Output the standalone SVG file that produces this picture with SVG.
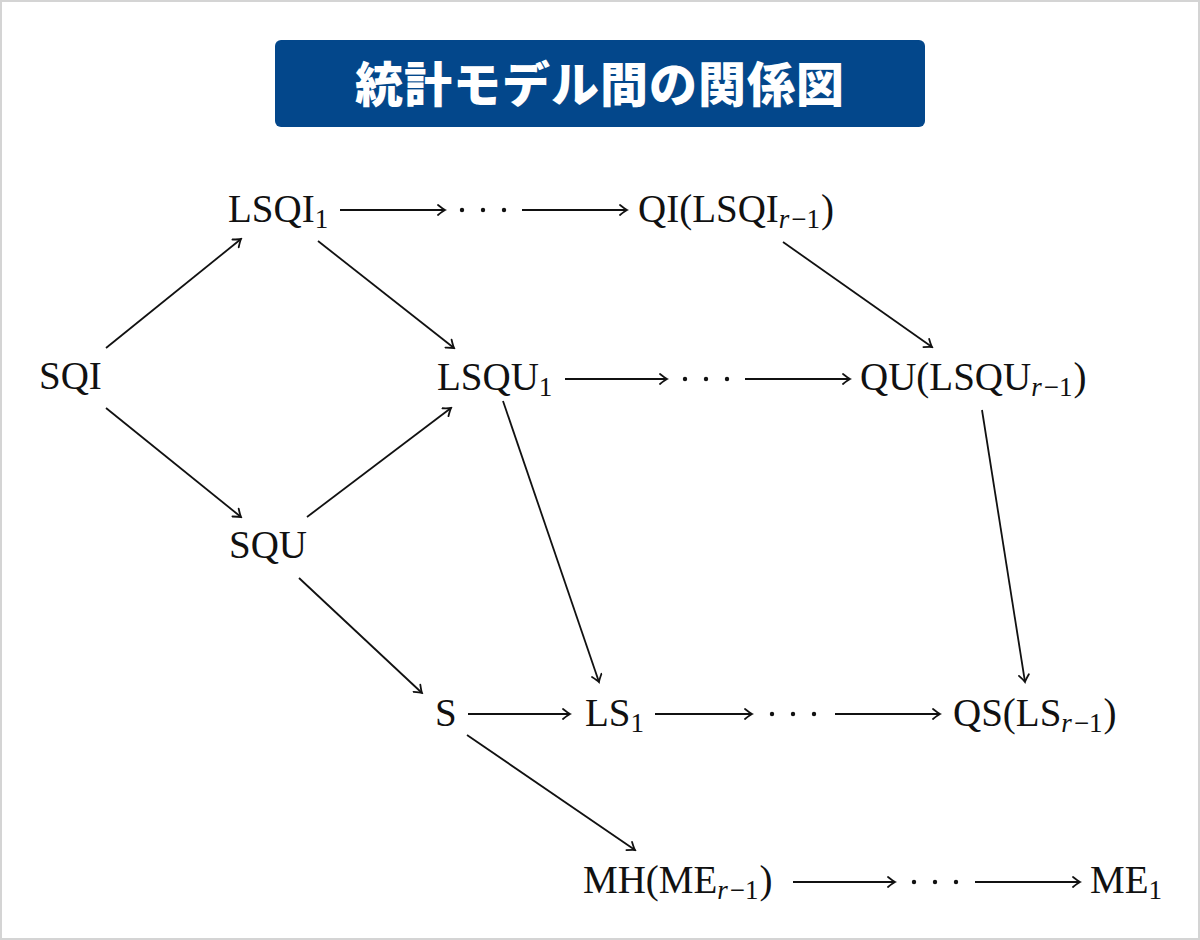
<svg xmlns="http://www.w3.org/2000/svg" width="1200" height="940" viewBox="0 0 1200 940">
<style>
.t{font-family:"Liberation Serif","DejaVu Serif",serif;font-size:39px;fill:#111}
.s{font-size:27px}
.i{font-style:italic}
.c line{stroke:#111;stroke-width:1.8;fill:none;marker-end:url(#ah)}
.title{font-family:"Noto Sans CJK JP","Noto Sans CJK SC",sans-serif;font-weight:900;font-size:48px;fill:#fff;letter-spacing:1px}
</style>
<defs>
<marker id="ah" viewBox="-10 -6 12 12" markerWidth="12" markerHeight="12" refX="0" refY="0" orient="auto" markerUnits="userSpaceOnUse">
<path d="M-7,-5 Q-2,-1 0,0 Q-2,1 -7,5" fill="none" stroke="#111" stroke-width="1.8" stroke-linecap="round"/>
</marker>
</defs>
<rect x="1" y="1" width="1198" height="938" fill="#fff" stroke="#d4d4d4" stroke-width="2"/>
<g id="title">
<rect x="275" y="40" width="650" height="87" rx="6" fill="#03478b"/>
<text class="title" x="600" y="102" text-anchor="middle">統計モデル間の関係図</text>
</g>
<g class="c" id="connectors">
<line x1="106" y1="348" x2="241" y2="239"/>
<line x1="106" y1="408" x2="241" y2="517"/>
<line x1="318" y1="241" x2="454" y2="348"/>
<line x1="307" y1="517" x2="451" y2="408"/>
<line x1="299" y1="578" x2="422" y2="693"/>
<line x1="503" y1="401" x2="599" y2="682"/>
<line x1="783" y1="242" x2="932" y2="347"/>
<line x1="982" y1="410" x2="1025" y2="682"/>
<line x1="467" y1="735" x2="635" y2="850"/>
<line x1="340" y1="210" x2="445" y2="210"/>
<line x1="522" y1="210" x2="627" y2="210"/>
<line x1="565" y1="379" x2="667" y2="379"/>
<line x1="745" y1="379" x2="850" y2="379"/>
<line x1="468" y1="714" x2="570" y2="714"/>
<line x1="655" y1="714" x2="752" y2="714"/>
<line x1="835" y1="714" x2="940" y2="714"/>
<line x1="793" y1="882" x2="895" y2="882"/>
<line x1="975" y1="882" x2="1080" y2="882"/>
<g id="dots" fill="#111">
<circle cx="462" cy="210" r="2.2"/><circle cx="483" cy="210" r="2.2"/><circle cx="504" cy="210" r="2.2"/>
<circle cx="685" cy="379" r="2.2"/><circle cx="706" cy="379" r="2.2"/><circle cx="727" cy="379" r="2.2"/>
<circle cx="772" cy="714" r="2.2"/><circle cx="793" cy="714" r="2.2"/><circle cx="814" cy="714" r="2.2"/>
<circle cx="914" cy="882" r="2.2"/><circle cx="935" cy="882" r="2.2"/><circle cx="956" cy="882" r="2.2"/>
</g>
</g>
<g id="SQI"><text class="t" x="39" y="389">SQI</text></g>
<g id="LSQI1"><text class="t" x="228" y="222">LSQI<tspan class="s" dy="6">1</tspan></text></g>
<g id="QI"><text class="t" x="638" y="222">QI(LSQI<tspan class="s i" dy="6">r</tspan><tspan class="s" dx="2">−1</tspan><tspan dy="-6" dx="1">)</tspan></text></g>
<g id="LSQU1"><text class="t" x="437" y="390">LSQU<tspan class="s" dy="6">1</tspan></text></g>
<g id="QU"><text class="t" x="860" y="390">QU(LSQU<tspan class="s i" dy="6">r</tspan><tspan class="s" dx="2">−1</tspan><tspan dy="-6" dx="1">)</tspan></text></g>
<g id="SQU"><text class="t" x="229" y="558">SQU</text></g>
<g id="S"><text class="t" x="435" y="726">S</text></g>
<g id="LS1"><text class="t" x="585" y="726">LS<tspan class="s" dy="6">1</tspan></text></g>
<g id="QS"><text class="t" x="953" y="726">QS(LS<tspan class="s i" dy="6">r</tspan><tspan class="s" dx="2">−1</tspan><tspan dy="-6" dx="1">)</tspan></text></g>
<g id="MH"><text class="t" x="583" y="893">MH(ME<tspan class="s i" dy="6">r</tspan><tspan class="s" dx="2">−1</tspan><tspan dy="-6" dx="1">)</tspan></text></g>
<g id="ME1"><text class="t" x="1090" y="893">ME<tspan class="s" dy="6">1</tspan></text></g>
</svg>
